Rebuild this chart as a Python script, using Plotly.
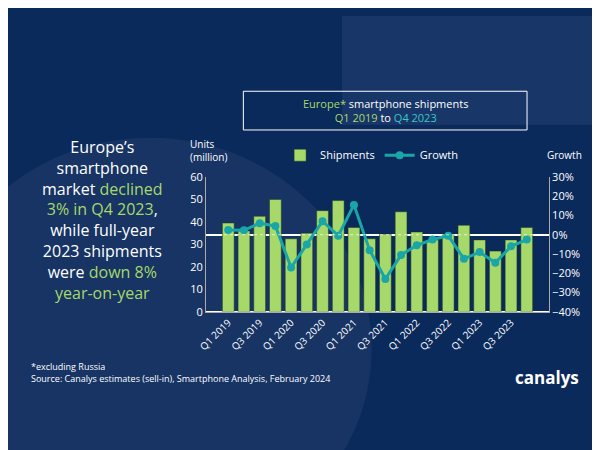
import plotly.graph_objects as go

quarters = [f"Q{q} {y}" for y in range(2019, 2024) for q in range(1, 5)]
shipments = [39.5, 36, 42.5, 50, 32.5, 35, 45, 49.5, 37.5, 32.5, 34.5, 44.5, 35.5, 32, 34.5, 38.5, 32, 27, 32, 37.5]
growth = [2.5, 2.3, 6, 4.5, -17, -5, 7, -0.5, 15.5, -8, -23, -10.5, -5.5, -2.5, -0.5, -12.5, -9, -14.5, -6, -2.5]
ticklabels = [q if i % 2 == 0 else "" for i, q in enumerate(quarters)]

fig = go.Figure()
fig.add_bar(x=quarters, y=shipments, name="Shipments", marker=dict(color="#a6d96a", line=dict(color="#1a3a1a", width=0.5)), width=0.75)
fig.add_scatter(x=quarters, y=growth, name="Growth", yaxis="y2", mode="lines+markers",
                line=dict(color="#1aa6a6", width=3), marker=dict(size=8, color="#1aa6a6"))
fig.add_shape(type="line", xref="x domain", x0=0, x1=1, yref="y2", y0=0, y1=0,
              line=dict(color="rgba(255,255,255,0.7)", width=1, dash="dot"))
fig.update_layout(
    width=600, height=450, margin=dict(l=0, r=0, t=0, b=0),
    paper_bgcolor="#0b2a5c", plot_bgcolor="rgba(0,0,0,0)",
    font=dict(family="Open Sans", color="white", size=11),
    xaxis=dict(domain=[0.32, 0.9], tickvals=quarters, ticktext=ticklabels, tickangle=-45,
               showgrid=False, showline=True, linecolor="#aaa", tickfont=dict(size=10)),
    yaxis=dict(domain=[0.32, 0.63], range=[0, 60], dtick=10, showgrid=False, showline=True,
               linecolor="#aaa", tickfont=dict(size=11)),
    yaxis2=dict(overlaying="y", side="right", range=[-40, 30], dtick=10, ticksuffix="%",
                showgrid=False, showline=True, linecolor="#aaa", tickfont=dict(size=11)),
    legend=dict(orientation="h", x=0.6, xanchor="center", y=0.68, yanchor="middle",
                bgcolor="rgba(0,0,0,0)", font=dict(size=11)),
)
fig.add_shape(type="circle", xref="paper", yref="paper", x0=-0.15, x1=0.6, y0=-0.25, y1=0.72,
              fillcolor="rgba(255,255,255,0.05)", line_width=0, layer="below")
fig.add_shape(type="rect", xref="paper", yref="paper", x0=0.55, x1=1.0, y0=0.75, y1=1.0,
              fillcolor="rgba(120,150,200,0.12)", line_width=0, layer="below")
fig.add_shape(type="rect", xref="paper", yref="paper", x0=0.383, x1=0.863, y0=0.738, y1=0.827,
              line=dict(color="white", width=1))
fig.add_annotation(xref="paper", yref="paper", x=0.623, y=0.783, showarrow=False, align="center",
                   xanchor="center", yanchor="middle",
                   text="<span style='color:#a6d96a'>Europe*</span> smartphone shipments<br><span style='color:#a6d96a'>Q1 2019</span> to <span style='color:#3cc8c8'>Q4 2023</span>",
                   font=dict(size=11))
g = "#a6d96a"
fig.add_annotation(xref="paper", yref="paper", x=0.145, y=0.53, xanchor="center", yanchor="middle",
                   showarrow=False, align="center",
                   text=f"Europe’s<br>smartphone<br>market <span style='color:{g}'>declined</span><br><span style='color:{g}'>3% in Q4 2023</span>,<br>while full-year<br>2023 shipments<br>were <span style='color:{g}'>down 8%</span><br><span style='color:{g}'>year-on-year</span>",
                   font=dict(size=16))
fig.add_annotation(xref="paper", yref="paper", x=0.29, y=0.69, yanchor="middle", showarrow=False, xanchor="left", align="left",
                   text="Units<br>(million)", font=dict(size=10))
fig.add_annotation(xref="paper", yref="paper", x=0.96, y=0.68, yanchor="middle", showarrow=False, xanchor="right",
                   text="Growth", font=dict(size=10))
fig.add_annotation(xref="paper", yref="paper", x=0.02, y=0.18, yanchor="middle", showarrow=False, xanchor="left", align="left",
                   text="*excluding Russia<br>Source: Canalys estimates (sell-in), Smartphone Analysis, February 2024",
                   font=dict(size=9))
fig.add_annotation(xref="paper", yref="paper", x=0.955, y=0.17, yanchor="middle", showarrow=False, xanchor="right",
                   text="<b>canalys</b>", font=dict(size=17))
fig.write_html("out.html")
